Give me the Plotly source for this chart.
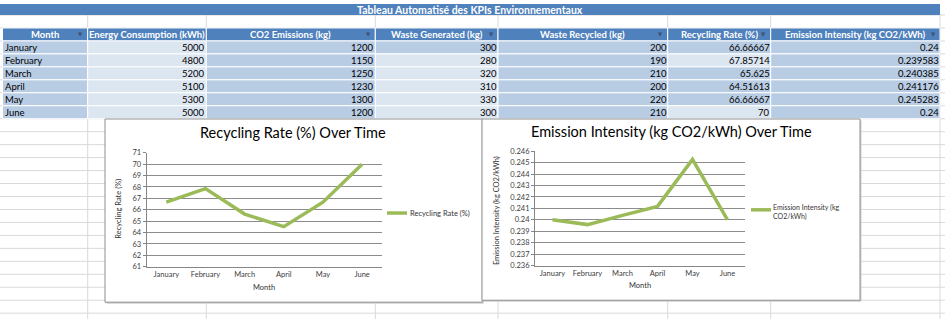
import plotly.graph_objects as go

# ---------------- data ----------------
months = ["January", "February", "March", "April", "May", "June"]
energy_kwh = [5000, 4800, 5200, 5100, 5300, 5000]
co2_kg = [1200, 1150, 1250, 1230, 1300, 1200]
waste_generated = [300, 280, 320, 310, 330, 300]
waste_recycled = [200, 190, 210, 200, 220, 210]
recycling_rate = [66.66667, 67.85714, 65.625, 64.51613, 66.66667, 70.0]
emission_intensity = [0.24, 0.239583, 0.240385, 0.241176, 0.245283, 0.24]

table_title = "Tableau Automatisé des KPIs Environnementaux"
headers = ["Month", "Energy Consumption (kWh)", "CO2 Emissions (kg)", "Waste Generated (kg)",
           "Waste Recycled (kg)", "Recycling Rate (%)", "Emission Intensity (kg CO2/kWh)"]
header_has_filter = [True, False, True, True, True, True, True]

y1_ticks = [61, 62, 63, 64, 65, 66, 67, 68, 69, 70, 71]
y2_ticks = [0.236, 0.237, 0.238, 0.239, 0.240, 0.241, 0.242, 0.243, 0.244, 0.245, 0.246]
y2_tick_labels = ["0.236", "0.237", "0.238", "0.239", "0.24", "0.241", "0.242", "0.243", "0.244", "0.245", "0.246"]

chart1_title = "Recycling Rate (%) Over Time"
chart2_title = "Emission Intensity (kg CO2/kWh) Over Time"
chart1_ytitle = "Recycling Rate (%)"
chart2_ytitle = "Emission Intensity (kg CO2/kWh)"
xtitle = "Month"
legend1_name = "Recycling Rate (%)"
legend2_lines = ["Emission Intensity (kg", "CO2/kWh)"]

# ---------------- geometry / style ----------------
W, H = 945, 324
FONT = "Lato, Carlito, Calibri, 'Liberation Sans', sans-serif"
BLUE = "#4F81BD"
DARK = "#B8CCE4"
LIGHT = "#DCE6F1"
GREEN = "#9BBB59"
GRID = "#D9D9D9"


def px(x):
    return x / W


def py(y):
    return 1 - y / H


def row(k):
    return 13.333 * k - 2


col_edges = [2.5, 87.7, 206.3, 375.3, 498, 667.7, 770.7, 940]
# light cells (col index -> rows that are light)
light_cells = {1: {0, 1, 2, 3, 4, 5}, 3: {1, 2, 3, 4, 5}, 5: {1, 5}}


def fmt(v):
    if isinstance(v, str):
        return v
    if isinstance(v, int):
        return str(v)
    s = repr(float(v))
    if s.endswith(".0"):
        s = s[:-2]
    return s


shapes = []
annotations = []

# spreadsheet gridlines
k = 1
while row(k) < H:
    shapes.append(dict(type="line", xref="paper", yref="paper", x0=0, x1=1, y0=py(row(k)), y1=py(row(k)),
                       line=dict(color=GRID, width=1), layer="below"))
    k += 1
for xe in col_edges[1:]:
    shapes.append(dict(type="line", xref="paper", yref="paper", x0=px(xe), x1=px(xe), y0=0, y1=py(row(1)),
                       line=dict(color=GRID, width=1), layer="below"))

# title bar
shapes.append(dict(type="rect", xref="paper", yref="paper", x0=0, x1=px(col_edges[-1]), y0=py(row(1)), y1=1,
                   fillcolor=BLUE, line=dict(width=0), layer="below"))
annotations.append(dict(text="<b>%s</b>" % table_title, x=px((0 + col_edges[-1]) / 2), y=py(row(1) / 2 + 0.3),
                        xref="paper", yref="paper", showarrow=False, xanchor="center", yanchor="middle",
                        font=dict(family=FONT, size=10.5, color="white")))

# header cells
for c, h in enumerate(headers):
    x0, x1 = col_edges[c], col_edges[c + 1]
    shapes.append(dict(type="rect", xref="paper", yref="paper", x0=px(x0), x1=px(x1), y0=py(row(3)), y1=py(row(2)),
                       fillcolor=BLUE, line=dict(color="white", width=1), layer="below"))
    annotations.append(dict(text="<b>%s</b>" % h, x=px((x0 + x1) / 2), y=py((row(2) + row(3)) / 2),
                            xref="paper", yref="paper", showarrow=False, xanchor="center", yanchor="middle",
                            font=dict(family=FONT, size=9.5, color="white")))
    if header_has_filter[c]:
        annotations.append(dict(text="▼", x=px(x1 - 7), y=py((row(2) + row(3)) / 2 - 0.5),
                                xref="paper", yref="paper", showarrow=False, xanchor="center", yanchor="middle",
                                font=dict(family="DejaVu Sans", size=5.5, color="#3F5372")))

# data cells
columns = [months, energy_kwh, co2_kg, waste_generated, waste_recycled, recycling_rate, emission_intensity]
for c, col in enumerate(columns):
    x0, x1 = col_edges[c], col_edges[c + 1]
    for r, v in enumerate(col):
        fill = LIGHT if r in light_cells.get(c, set()) else DARK
        y0, y1 = row(3 + r), row(4 + r)
        shapes.append(dict(type="rect", xref="paper", yref="paper", x0=px(x0), x1=px(x1), y0=py(y1), y1=py(y0),
                           fillcolor=fill, line=dict(color="white", width=1), layer="below"))
        if c == 0:
            annotations.append(dict(text=fmt(v), x=px(x0), y=py((y0 + y1) / 2), xref="paper", yref="paper",
                                    showarrow=False, xanchor="left", yanchor="middle",
                                    font=dict(family=FONT, size=9.5, color="black")))
        else:
            annotations.append(dict(text=fmt(v), x=px(x1 + 1), y=py((y0 + y1) / 2), xref="paper", yref="paper",
                                    showarrow=False, xanchor="right", yanchor="middle",
                                    font=dict(family=FONT, size=9.5, color="black")))

# chart boxes
charts = [(105, 118.3, 482.3, 306.7), (482, 118.3, 860, 304.7)]
for (x0, y0, x1, y1) in charts:
    shapes.append(dict(type="rect", xref="paper", yref="paper", x0=px(x0 + 1.5), x1=px(x1 + 1.5),
                       y0=py(y1 + 1.5), y1=py(y0 + 1.5), fillcolor="#D0D0D0", line=dict(width=0), layer="below"))
    shapes.append(dict(type="rect", xref="paper", yref="paper", x0=px(x0), x1=px(x1), y0=py(y1), y1=py(y0),
                       fillcolor="white", line=dict(color="#8F8F8F", width=1), layer="below"))

# legends (manual keys)
shapes.append(dict(type="line", xref="paper", yref="paper", x0=px(387), x1=px(407), y0=py(215), y1=py(215),
                   line=dict(color=GREEN, width=3.5)))
annotations.append(dict(text=legend1_name, x=px(407.5), y=py(215), xref="paper", yref="paper", showarrow=False,
                        xanchor="left", yanchor="middle", font=dict(family=FONT, size=7.5, color="#333333")))
shapes.append(dict(type="line", xref="paper", yref="paper", x0=px(751), x1=px(771), y0=py(211.7), y1=py(211.7),
                   line=dict(color=GREEN, width=3.5)))
annotations.append(dict(text="<br>".join(legend2_lines), x=px(771), y=py(214), xref="paper", yref="paper",
                        showarrow=False, align="left", xanchor="left", yanchor="middle",
                        font=dict(family=FONT, size=7, color="#333333")))

# chart titles and axis titles
annotations += [
    dict(text=chart1_title, x=px(293), y=py(132), xref="paper", yref="paper", showarrow=False,
         xanchor="center", yanchor="middle", font=dict(family=FONT, size=14.5, color="black")),
    dict(text=chart2_title, x=px(671), y=py(131), xref="paper", yref="paper", showarrow=False,
         xanchor="center", yanchor="middle", font=dict(family=FONT, size=14.5, color="black")),
    dict(text=chart1_ytitle, x=px(119), y=py(210.5), xref="paper", yref="paper", showarrow=False, textangle=-90,
         xanchor="center", yanchor="middle", font=dict(family=FONT, size=7.5, color="#333333")),
    dict(text=chart2_ytitle, x=px(496), y=py(212), xref="paper", yref="paper", showarrow=False, textangle=-90,
         xanchor="center", yanchor="middle", font=dict(family=FONT, size=7.5, color="#333333")),
    dict(text=xtitle, x=px(264), y=py(292), xref="paper", yref="paper", showarrow=False,
         xanchor="center", yanchor="middle", font=dict(family=FONT, size=7.5, color="#333333")),
    dict(text=xtitle, x=px(640), y=py(290), xref="paper", yref="paper", showarrow=False,
         xanchor="center", yanchor="middle", font=dict(family=FONT, size=7.5, color="#333333")),
]

fig = go.Figure()
fig.add_trace(go.Scatter(x=months, y=recycling_rate, mode="lines", name=legend1_name,
                         line=dict(color=GREEN, width=3.5), xaxis="x", yaxis="y", showlegend=False))
fig.add_trace(go.Scatter(x=months, y=emission_intensity, mode="lines", name=" ".join(legend2_lines),
                         line=dict(color=GREEN, width=3.5), xaxis="x2", yaxis="y2", showlegend=False))

tickfont = dict(family=FONT, size=7.5, color="#404040")
axis_common = dict(fixedrange=True, zeroline=False)
fig.update_layout(
    width=W, height=H, margin=dict(l=0, r=0, t=0, b=0),
    paper_bgcolor="white", plot_bgcolor="rgba(0,0,0,0)",
    shapes=shapes, annotations=annotations, showlegend=False,
    xaxis=dict(domain=[px(146.7), px(381.7)], anchor="y", type="category", range=[-0.5, 5.5],
               showgrid=False, showline=True, linecolor="#868686", linewidth=1, ticks="",
               tickfont=tickfont, **axis_common),
    yaxis=dict(domain=[py(270.3), py(153.0)], anchor="x", range=[61, 71], tickvals=y1_ticks,
               showgrid=True, gridcolor="#8C8C8C", gridwidth=1, showline=True, linecolor="#868686",
               ticks="outside", ticklen=3, tickcolor="#868686", tickfont=tickfont, **axis_common),
    xaxis2=dict(domain=[px(535), px(745)], anchor="y2", type="category", range=[-0.5, 5.5],
                showgrid=False, showline=True, linecolor="#868686", linewidth=1, ticks="",
                tickfont=tickfont, **axis_common),
    yaxis2=dict(domain=[py(269), py(151.5)], anchor="x2", range=[0.236, 0.246], tickvals=y2_ticks,
                ticktext=y2_tick_labels, showgrid=True, gridcolor="#8C8C8C", gridwidth=1, showline=True,
                linecolor="#868686", ticks="outside", ticklen=3, tickcolor="#868686", tickfont=tickfont,
                **axis_common),
)

fig.write_html("out.html")
